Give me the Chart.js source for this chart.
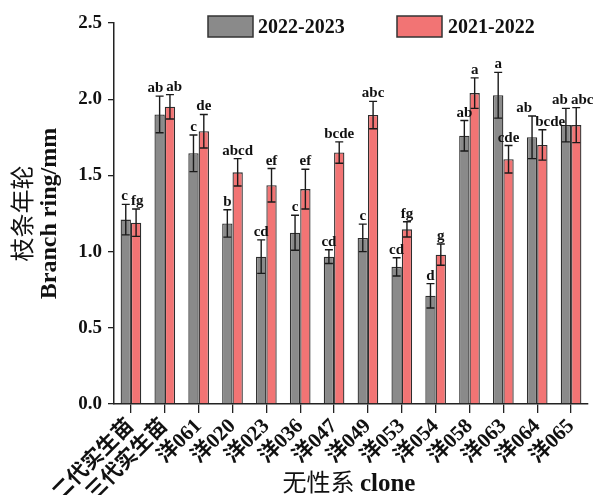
<!DOCTYPE html>
<html>
<head>
<meta charset="utf-8">
<script src="https://cdn.jsdelivr.net/npm/chart.js@4.4.1/dist/chart.umd.min.js"></script>
<style>
  html, body { margin: 0; padding: 0; background: #fff; }
  #c { display: block; }
</style>
</head>
<body>
<canvas id="c" width="593" height="495"></canvas>
<script>
const categories = ['二代实生苗','三代实生苗','洋061','洋020','洋023','洋036','洋047','洋049','洋053','洋054','洋058','洋063','洋064','洋065'];
const seriesNames = ['2022-2023', '2021-2022'];
const values2223 = [1.21, 1.90, 1.645, 1.185, 0.967, 1.124, 0.967, 1.09, 0.90, 0.71, 1.76, 2.026, 1.75, 1.83];
const errors2223 = [0.10, 0.12, 0.12, 0.09, 0.11, 0.115, 0.045, 0.09, 0.06, 0.08, 0.10, 0.15, 0.14, 0.11];
const values2122 = [1.19, 1.95, 1.79, 1.52, 1.435, 1.41, 1.65, 1.896, 1.146, 0.98, 2.04, 1.606, 1.70, 1.83];
const errors2122 = [0.09, 0.08, 0.11, 0.09, 0.11, 0.13, 0.07, 0.09, 0.05, 0.07, 0.10, 0.09, 0.10, 0.115];
const letters2223 = ['c','ab','c','b','cd','c','cd','c','cd','d','ab','a','ab','ab'];
const letters2122 = ['fg','ab','de','abcd','ef','ef','bcde','abc','fg','g','a','cde','bcde','abc'];
const yMin = 0, yMax = 2.5, yStep = 0.5;
const yTitleZh = '枝条年轮';
const yTitleEn = 'Branch ring/mm';
const xTitleZh = '无性系';
const xTitleEn = 'clone';

const SERIF = '"Liberation Serif", "Times New Roman", serif';
const CJK = '"Noto Sans CJK SC", sans-serif';

const annot = {
  id: 'annot',
  afterDatasetsDraw(chart) {
    const ctx = chart.ctx;
    const y = chart.scales.y;
    const labelFont = 'bold 15px ' + SERIF;
    // error bars
    const lab = [];
    chart.data.datasets.forEach((ds, di) => {
      const meta = chart.getDatasetMeta(di);
      lab[di] = [];
      meta.data.forEach((bar, i) => {
        const v = ds.data[i], e = ds.errors[i];
        const top = y.getPixelForValue(v + e);
        const bot = y.getPixelForValue(v - e);
        ctx.save();
        ctx.strokeStyle = '#1a1a1a';
        ctx.lineWidth = 1.4;
        ctx.beginPath();
        ctx.moveTo(bar.x, top); ctx.lineTo(bar.x, bot);
        ctx.moveTo(bar.x - 4, top); ctx.lineTo(bar.x + 4, top);
        ctx.moveTo(bar.x - 4, bot); ctx.lineTo(bar.x + 4, bot);
        ctx.stroke();
        ctx.restore();
        ctx.font = labelFont;
        lab[di][i] = { x: bar.x, y: top - 4, w: ctx.measureText(ds.letters[i]).width, t: ds.letters[i] };
      });
    });
    // simple collision avoidance between the two letters of a category
    if (lab.length === 2) {
      for (let i = 0; i < lab[0].length; i++) {
        const a = lab[0][i], b = lab[1][i];
        if (Math.abs(a.y - b.y) < 14) {
          const need = a.w / 2 + b.w / 2 + 3 - (b.x - a.x);
          if (need > 0) { a.x -= need / 2; b.x += need / 2; }
        }
      }
    }
    ctx.save();
    ctx.fillStyle = '#111';
    ctx.font = labelFont;
    ctx.textAlign = 'center';
    ctx.textBaseline = 'alphabetic';
    lab.forEach(arr => arr.forEach(l => ctx.fillText(l.t, l.x, l.y)));
    ctx.restore();
  },
  afterDraw(chart) {
    const ctx = chart.ctx;
    const area = chart.chartArea;
    ctx.save();
    // legend
    const boxes = [{x: 208, tx: 258}, {x: 397, tx: 448}];
    chart.data.datasets.forEach((ds, di) => {
      const b = boxes[di];
      ctx.fillStyle = ds.backgroundColor;
      ctx.fillRect(b.x, 16, 45, 21);
      ctx.strokeStyle = '#333';
      ctx.lineWidth = 1.5;
      ctx.strokeRect(b.x, 16, 45, 21);
      ctx.fillStyle = '#111';
      ctx.font = 'bold 20px ' + SERIF;
      ctx.textAlign = 'left';
      ctx.textBaseline = 'middle';
      ctx.fillText(ds.label, b.tx, 28);
    });
    // y title (two lines, rotated)
    const cy = (area.top + area.bottom) / 2;
    ctx.fillStyle = '#111';
    ctx.textAlign = 'center';
    ctx.textBaseline = 'middle';
    ctx.save();
    ctx.translate(22, cy);
    ctx.rotate(-Math.PI / 2);
    ctx.font = '24px ' + CJK;
    ctx.fillText(yTitleZh, 0, 0);
    ctx.restore();
    ctx.save();
    ctx.translate(50, cy);
    ctx.rotate(-Math.PI / 2);
    ctx.font = 'bold 24px ' + SERIF;
    ctx.fillText(yTitleEn, 0, 0);
    ctx.restore();
    // x title
    ctx.textBaseline = 'alphabetic';
    ctx.textAlign = 'left';
    ctx.font = '24px ' + CJK;
    const wZh = ctx.measureText(xTitleZh + ' ').width;
    ctx.font = 'bold 25px ' + SERIF;
    const wEn = ctx.measureText(xTitleEn).width;
    const x0 = 349 - (wZh + wEn) / 2;
    ctx.font = '24px ' + CJK;
    ctx.fillText(xTitleZh, x0, 491);
    ctx.font = 'bold 25px ' + SERIF;
    ctx.fillText(xTitleEn, x0 + wZh, 491);
    ctx.restore();
  }
};

new Chart(document.getElementById('c'), {
  type: 'bar',
  data: {
    labels: categories,
    datasets: [
      {
        label: seriesNames[0],
        data: values2223,
        errors: errors2223,
        letters: letters2223,
        backgroundColor: '#8a8a8a',
        borderColor: '#2e2e2e',
        borderWidth: 1.3,
        categoryPercentage: 0.61,
        barPercentage: 1.0
      },
      {
        label: seriesNames[1],
        data: values2122,
        errors: errors2122,
        letters: letters2122,
        backgroundColor: '#f27474',
        borderColor: '#2e2e2e',
        borderWidth: 1.3,
        categoryPercentage: 0.61,
        barPercentage: 1.0
      }
    ]
  },
  options: {
    responsive: false,
    animation: false,
    devicePixelRatio: 1,
    layout: { padding: { top: 23, right: 5, bottom: 0, left: 0 } },
    plugins: {
      legend: { display: false },
      tooltip: { enabled: false },
      title: { display: false }
    },
    scales: {
      x: {
        afterFit(scale) { scale.height = 91; },
        grid: {
          display: true,
          drawOnChartArea: false,
          drawTicks: true,
          tickLength: 9,
          offset: false,
          color: '#222',
          lineWidth: 1.3
        },
        border: { display: true, color: '#222', width: 1.5 },
        ticks: {
          color: '#111',
          font: { family: '"Liberation Serif", "Noto Sans CJK SC", serif', size: 21, weight: 'bold' },
          minRotation: 45,
          maxRotation: 45,
          autoSkip: false,
          padding: 1
        }
      },
      y: {
        min: yMin,
        max: yMax,
        afterFit(scale) { scale.width = 114; },
        grid: {
          display: true,
          drawOnChartArea: false,
          drawTicks: true,
          tickLength: 6,
          color: '#222',
          lineWidth: 1.3
        },
        border: { display: true, color: '#222', width: 1.5 },
        ticks: {
          stepSize: yStep,
          color: '#111',
          padding: 6,
          font: { family: SERIF, size: 19, weight: 'bold' },
          callback: (v) => Number(v).toFixed(1)
        }
      }
    }
  },
  plugins: [annot]
});
</script>
</body>
</html>
